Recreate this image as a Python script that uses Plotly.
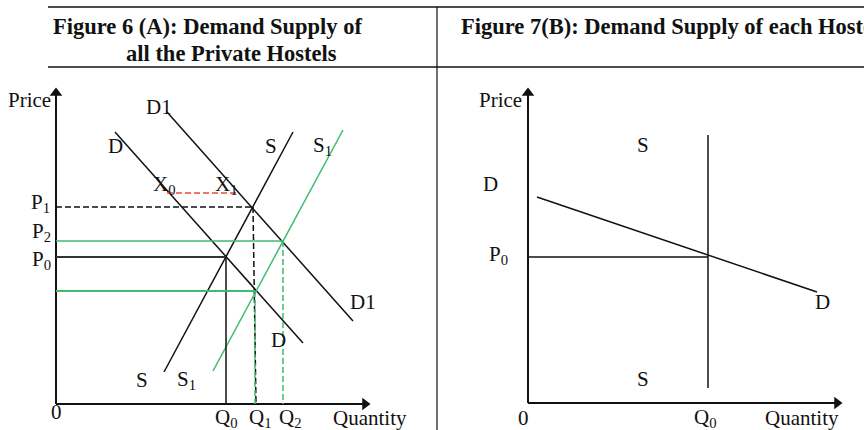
import plotly.graph_objects as go

# ---------------- Panel A (all private hostels) : quantity / price units ----------------
D_q = [59, 247]
D_p = [272, 61]
D1_q = [111, 297]
D1_p = [292, 83]
S_q = [237, 108]
S_p = [272, 32]
S1_q = [287, 157]
S1_p = [274, 33]

Q0, Q1, Q2 = 170, 199, 227
P0, P1, P2, P3 = 147, 197, 163, 113
X_p = 211
X_q = [111, 181]

AXIS_A_Q = [0, 309]
AXIS_A_P = [0, 311]

# ---------------- Panel B (each hostel) ----------------
DB_q = [9, 289]
DB_p = [206, 111]
SB_q = 180
SB_p = [268, 15]
PB0 = 146
AXIS_B_Q = [0, 309]
AXIS_B_P = [0, 310]

GREEN = "#3dbb6f"
RED = "#ee4b3b"
BLACK = "#111111"
FONT = "Liberation Serif"
DASH = "6px,3px"

fig = go.Figure()

def line(x, y, color=BLACK, width=1.5, dash="solid", xa="x", ya="y"):
    fig.add_trace(go.Scatter(x=x, y=y, mode="lines", xaxis=xa, yaxis=ya,
                             line=dict(color=color, width=width, dash=dash),
                             hoverinfo="skip", showlegend=False))

# Panel A axes
line([0, 0], AXIS_A_P, width=2)
line(AXIS_A_Q, [0, 0], width=2)
fig.add_trace(go.Scatter(x=[0], y=[AXIS_A_P[1]], mode="markers", marker=dict(symbol="triangle-up", size=11, color=BLACK),
                         showlegend=False, hoverinfo="skip"))
fig.add_trace(go.Scatter(x=[AXIS_A_Q[1]], y=[0], mode="markers", marker=dict(symbol="triangle-right", size=11, color=BLACK),
                         showlegend=False, hoverinfo="skip"))

# Panel A curves
line(D_q, D_p)
line(D1_q, D1_p)
line(S_q, S_p)
line(S1_q, S1_p, color=GREEN)

# Panel A guide lines
line([0, Q0], [P0, P0], width=2, color="#333333")
line([Q0, Q0], [P0, 0], color=BLACK)
line([0, Q1 - 2], [P1, P1], dash=DASH)
line([Q1 - 2, Q1 + 1], [P1, 0], dash=DASH)
line([0, Q2 - 1], [P2, P2], color=GREEN)
line([Q2, Q2], [P2, 0], color=GREEN, dash=DASH)
line([0, Q1], [P3, P3], color=GREEN, width=2)
line([Q1, Q1], [P3, 0], color=GREEN, dash=DASH)
line(X_q, [X_p, X_p], color=RED, dash=DASH)

# Panel B axes
line([0, 0], AXIS_B_P, width=2, xa="x2", ya="y2")
line(AXIS_B_Q, [0, 0], width=2, xa="x2", ya="y2")
fig.add_trace(go.Scatter(x=[0], y=[AXIS_B_P[1]], mode="markers", xaxis="x2", yaxis="y2",
                         marker=dict(symbol="triangle-up", size=11, color=BLACK), showlegend=False, hoverinfo="skip"))
fig.add_trace(go.Scatter(x=[AXIS_B_Q[1]], y=[0], mode="markers", xaxis="x2", yaxis="y2",
                         marker=dict(symbol="triangle-right", size=11, color=BLACK), showlegend=False, hoverinfo="skip"))
line(DB_q, DB_p, xa="x2", ya="y2")
line([SB_q, SB_q], SB_p, xa="x2", ya="y2")
line([0, SB_q], [PB0, PB0], xa="x2", ya="y2")

# Labels
labA = [
    ("Price", -27, 304), ("D1", 103, 297), ("D", 59, 258), ("S", 215, 258), ("S<sub>1</sub>", 266, 258),
    ("X<sub>0</sub>", 108, 219), ("X<sub>1</sub>", 170, 219),
    ("P<sub>1</sub>", -16, 201), ("P<sub>2</sub>", -15, 172), ("P<sub>0</sub>", -15, 144),
    ("D1", 307, 102), ("D", 222, 64), ("S", 86, 24), ("S<sub>1</sub>", 130, 24),
    ("0", 0, -8), ("Q<sub>0</sub>", 170, -14), ("Q<sub>1</sub>", 204, -14), ("Q<sub>2</sub>", 234, -14),
    ("Quantity", 314, -14),
]
labB = [
    ("Price", -28, 303), ("S", 115, 258), ("D", -38, 219), ("P<sub>0</sub>", -30, 148),
    ("D", 294, 101), ("S", 115, 24), ("0", -5, -15), ("Q<sub>0</sub>", 177, -15), ("Quantity", 274, -15),
]
ann = []
for t, x, y in labA:
    ann.append(dict(text=t, x=x, y=y, xref="x", yref="y", showarrow=False, xanchor="center", yanchor="middle",
                    font=dict(family=FONT, size=21, color=BLACK)))
for t, x, y in labB:
    ann.append(dict(text=t, x=x, y=y, xref="x2", yref="y2", showarrow=False, xanchor="center", yanchor="middle",
                    font=dict(family=FONT, size=21, color=BLACK)))

H = 430.0
W = 864.0
# Titles (table header)
ann.append(dict(text="<b>Figure 6 (A): Demand Supply of</b>", x=51 / W, y=1 - 27 / H, xref="paper", yref="paper",
                showarrow=False, xanchor="left", yanchor="middle", font=dict(family=FONT, size=22.5, color=BLACK)))
ann.append(dict(text="<b>all the Private Hostels</b>", x=124 / W, y=1 - 54 / H, xref="paper", yref="paper",
                showarrow=False, xanchor="left", yanchor="middle", font=dict(family=FONT, size=22.5, color=BLACK)))
ann.append(dict(text="<b>Figure 7(B): Demand Supply of each Hostel</b>", x=459 / W, y=1 - 27 / H,
                xref="paper", yref="paper", showarrow=False, xanchor="left", yanchor="middle",
                font=dict(family=FONT, size=22.5, color=BLACK)))

shapes = [
    dict(type="line", xref="paper", yref="paper", x0=48 / W, x1=1, y0=1 - 7 / H, y1=1 - 7 / H,
         line=dict(color=BLACK, width=1.5)),
    dict(type="line", xref="paper", yref="paper", x0=48 / W, x1=1, y0=1 - 67 / H, y1=1 - 67 / H,
         line=dict(color=BLACK, width=1.5)),
    dict(type="line", xref="paper", yref="paper", x0=437 / W, x1=437 / W, y0=0, y1=1 - 7 / H,
         line=dict(color=BLACK, width=1.2)),
]

fig.update_layout(
    annotations=ann,
    width=864, height=430, margin=dict(l=0, r=0, t=0, b=0),
    paper_bgcolor="white", plot_bgcolor="white", shapes=shapes,
    xaxis=dict(domain=[0, 0.5], range=[-56, 376], visible=False, fixedrange=True),
    yaxis=dict(domain=[0, 1], range=[-26, 404], visible=False, fixedrange=True),
    xaxis2=dict(domain=[0.5, 1], range=[-96, 336], visible=False, fixedrange=True),
    yaxis2=dict(domain=[0, 1], range=[-27, 403], visible=False, fixedrange=True, anchor="x2"),
)

fig.write_html("out.html", config={"displayModeBar": False},
               post_script="document.body.style.margin='0';document.body.style.overflow='hidden';")
